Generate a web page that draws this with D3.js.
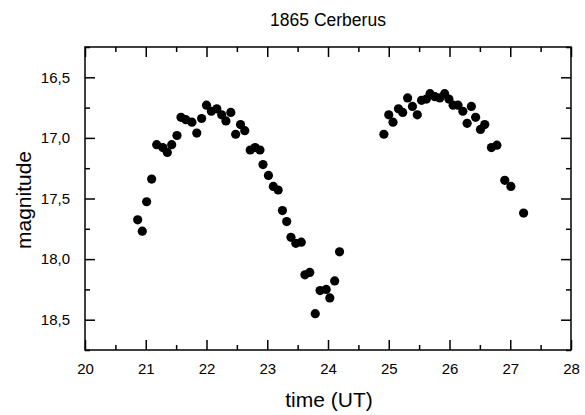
<!DOCTYPE html>
<html><head><meta charset="utf-8">
<script src="https://cdn.jsdelivr.net/npm/d3@7"></script>
<style>body{margin:0;background:#fff}svg{display:block}text{font-family:"Liberation Sans",Arial,sans-serif;fill:#000}</style>
</head><body><svg id="c" width="585" height="415"></svg>
<script>
const times = [20.867,20.943,21.015,21.097,21.18,21.28,21.355,21.427,21.514,21.58,21.66,21.76,21.84,21.92,22.0,22.08,22.17,22.25,22.32,22.40,22.48,22.56,22.63,22.72,22.80,22.88,22.93,23.02,23.10,23.18,23.25,23.32,23.39,23.47,23.56,23.62,23.70,23.79,23.87,23.97,24.03,24.11,24.19,
24.92,25.0,25.07,25.16,25.23,25.31,25.39,25.47,25.54,25.62,25.68,25.76,25.84,25.92,25.99,26.06,26.14,26.22,26.29,26.36,26.43,26.51,26.58,26.69,26.78,26.91,27.01,27.22];
const mags = [17.676,17.77,17.527,17.34,17.056,17.08,17.12,17.056,16.98,16.83,16.85,16.87,16.96,16.84,16.73,16.78,16.76,16.81,16.86,16.79,16.97,16.89,16.94,17.10,17.08,17.10,17.22,17.31,17.40,17.43,17.60,17.69,17.82,17.87,17.86,18.13,18.11,18.45,18.26,18.25,18.32,18.18,17.94,
16.97,16.81,16.87,16.76,16.79,16.67,16.74,16.81,16.69,16.68,16.635,16.66,16.67,16.635,16.68,16.73,16.73,16.78,16.88,16.74,16.83,16.93,16.89,17.08,17.06,17.35,17.40,17.62];
const xTicks = [20,21,22,23,24,25,26,27,28];
const yTicks = [16.5,17.0,17.5,18.0,18.5];
const xMinor = [20.5,21.5,22.5,23.5,24.5,25.5,26.5,27.5];
const yMinor = [16.25,16.75,17.25,17.75,18.25,18.75];
const title = "1865 Cerberus", xLabel = "time (UT)", yLabel = "magnitude";

const L=85,R=571,T=47,B=350;
const svg=d3.select("#c");
const x=d3.scaleLinear().domain([20,28]).range([L,R]);
const y=d3.scaleLinear().domain([16.25,18.75]).range([T,B]);
const fmt=d=>d3.format(".1f")(d).replace(".",",");

svg.append("rect").attr("x",L).attr("y",T).attr("width",R-L).attr("height",B-T)
  .attr("fill","none").attr("stroke","#000").attr("stroke-width",1.5);

const gB=svg.append("g").attr("transform",`translate(0,${B})`)
  .call(d3.axisBottom(x).tickValues(xTicks).tickSize(-10).tickPadding(13).tickFormat(d3.format("d")));
const gT=svg.append("g").attr("transform",`translate(0,${T})`)
  .call(d3.axisTop(x).tickValues(xTicks).tickSize(-10).tickFormat(""));
const gL=svg.append("g").attr("transform",`translate(${L},0)`)
  .call(d3.axisLeft(y).tickValues(yTicks).tickSize(-10).tickPadding(15).tickFormat(fmt));
const gR=svg.append("g").attr("transform",`translate(${R},0)`)
  .call(d3.axisRight(y).tickValues(yTicks).tickSize(-10).tickFormat(""));
const mB=svg.append("g").attr("transform",`translate(0,${B})`).call(d3.axisBottom(x).tickValues(xMinor).tickSize(-5).tickFormat(""));
const mT=svg.append("g").attr("transform",`translate(0,${T})`).call(d3.axisTop(x).tickValues(xMinor).tickSize(-5).tickFormat(""));
const mL=svg.append("g").attr("transform",`translate(${L},0)`).call(d3.axisLeft(y).tickValues(yMinor).tickSize(-5).tickFormat(""));
const mR=svg.append("g").attr("transform",`translate(${R},0)`).call(d3.axisRight(y).tickValues(yMinor).tickSize(-5).tickFormat(""));
[gB,gT,gL,gR,mB,mT,mL,mR].forEach(g=>{
  g.select(".domain").remove();
  g.selectAll("line").attr("stroke","#000").attr("stroke-width",1.5);
  g.selectAll("text").attr("font-size",15).attr("font-family","Liberation Sans, Arial, sans-serif").attr("fill","#000");
});

svg.append("g").selectAll("circle").data(times.map((t,i)=>[t,mags[i]])).join("circle")
  .attr("cx",d=>x(d[0])).attr("cy",d=>y(d[1])).attr("r",4.6).attr("fill","#000");

svg.append("text").attr("x",328).attr("y",26).attr("text-anchor","middle").attr("font-size",17.5).text(title);
svg.append("text").attr("x",329).attr("y",407).attr("text-anchor","middle").attr("font-size",21).text(xLabel);
svg.append("text").attr("transform","translate(31,200) rotate(-90)").attr("text-anchor","middle").attr("font-size",21).text(yLabel);
</script></body></html>
